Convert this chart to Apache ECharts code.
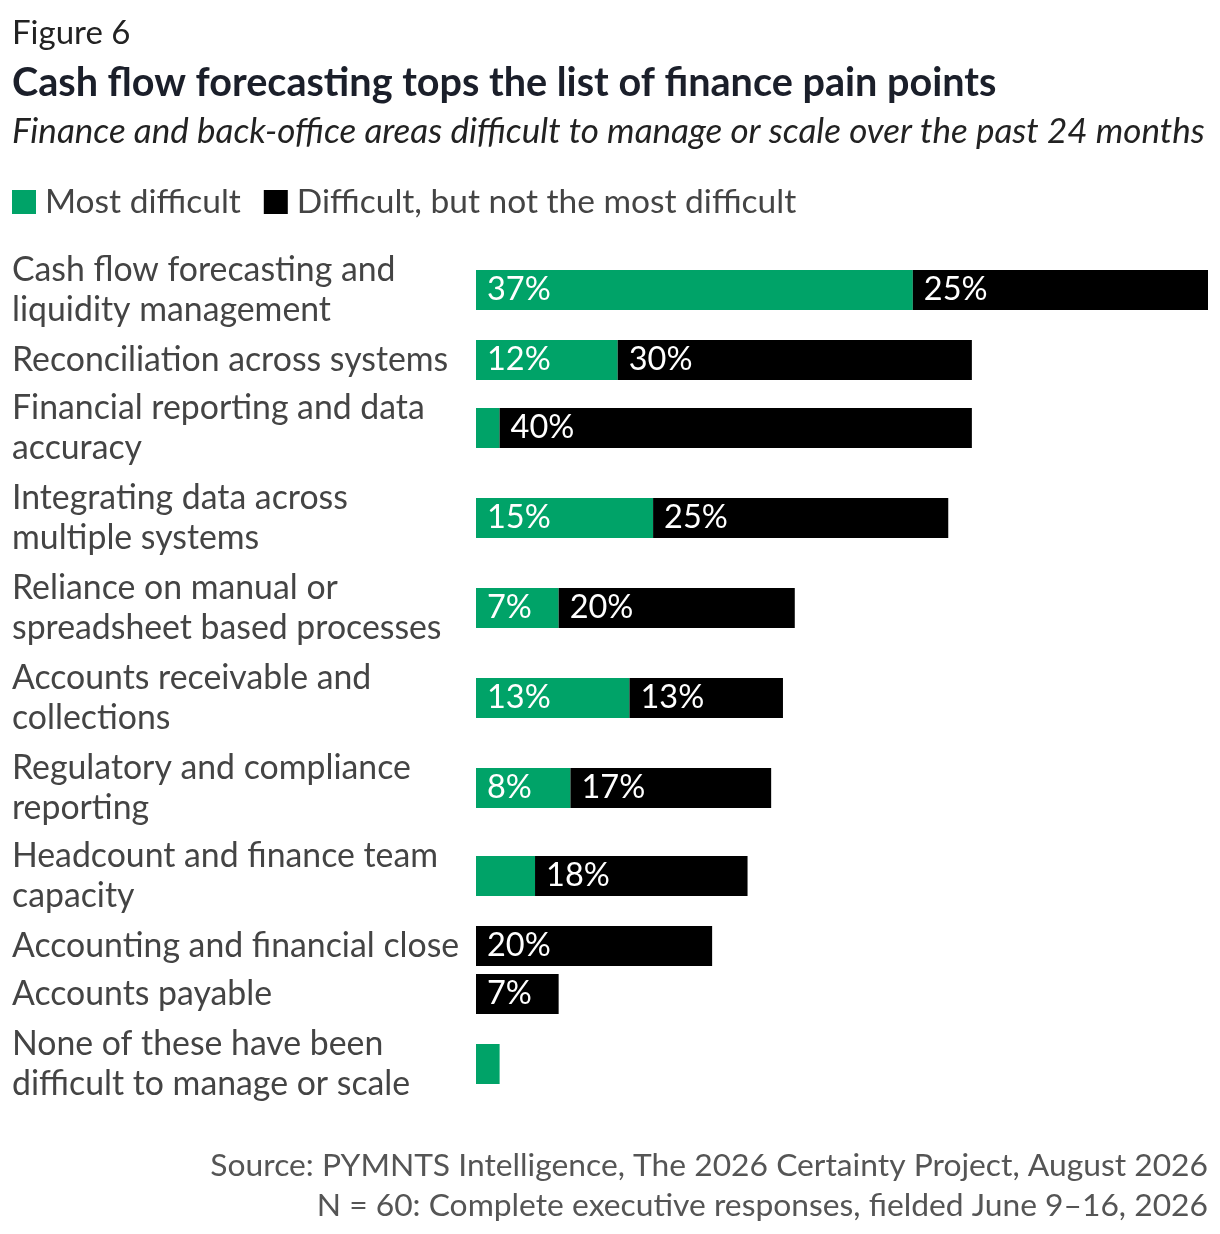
<!DOCTYPE html>
<html>
<head>
<meta charset="utf-8">
<script src="https://cdn.jsdelivr.net/npm/echarts@6/dist/echarts.min.js"></script>
<style>
  html, body { margin: 0; padding: 0; background: #fff; }
  #chart { width: 1220px; height: 1234px; }
</style>
</head>
<body>
<div id="chart"></div>
<script>
// Figure 6 data
var categories = [
    'Cash flow forecasting and\nliquidity management',
    'Reconciliation across systems',
    'Financial reporting and data\naccuracy',
    'Integrating data across\nmultiple systems',
    'Reliance on manual or\nspreadsheet based processes',
    'Accounts receivable and\ncollections',
    'Regulatory and compliance\nreporting',
    'Headcount and finance team\ncapacity',
    'Accounting and financial close',
    'Accounts payable',
    'None of these have been\ndifficult to manage or scale'
];
var mostDifficult = [37, 12, 2, 15, 7, 13, 8, 5, null, null, 2];
var difficult = [25, 30, 40, 25, 20, 13, 17, 18, 20, 7, null];
var seriesNames = ['Most difficult', 'Difficult, but not the most difficult'];

// layout: top of each row's bar (rows are not evenly spaced in the original)
var rowTop = [270, 340, 408, 498, 588, 678, 768, 856, 926, 974, 1044];

var FONT = 'Lato, "Noto Sans", sans-serif';
var GREEN = '#00A368';
var BLACK = '#000000';

var chart = echarts.init(document.getElementById('chart'));

var grids = [], xAxes = [], yAxes = [], series = [];

function barLabel() {
    return {
        show: true,
        position: 'insideLeft',
        distance: 11,
        color: '#fff',
        fontSize: 32.5,
        fontFamily: FONT,
        formatter: function (p) {
            return p.value >= 7 ? p.value + '%' : '';
        }
    };
}

categories.forEach(function (cat, i) {
    grids.push({
        left: 476,
        right: 12,
        top: rowTop[i],
        height: 40,
        outerBoundsMode: 'none'
    });
    xAxes.push({
        gridIndex: i,
        type: 'value',
        min: 0,
        max: 62,
        show: false
    });
    yAxes.push({
        gridIndex: i,
        type: 'category',
        data: [cat],
        axisLine: { show: false },
        axisTick: { show: false },
        splitLine: { show: false },
        axisLabel: {
            align: 'left',
            margin: 464,
            fontSize: 33.8,
            lineHeight: 40,
            color: '#444',
            fontFamily: FONT
        }
    });
    series.push({
        name: seriesNames[0],
        type: 'bar',
        xAxisIndex: i,
        yAxisIndex: i,
        stack: 'row' + i,
        barWidth: 40,
        itemStyle: { color: GREEN },
        label: barLabel(),
        data: [mostDifficult[i]]
    });
    series.push({
        name: seriesNames[1],
        type: 'bar',
        xAxisIndex: i,
        yAxisIndex: i,
        stack: 'row' + i,
        barWidth: 40,
        itemStyle: { color: BLACK },
        label: barLabel(),
        data: [difficult[i]]
    });
});

var option = {
    backgroundColor: '#fff',
    animation: false,
    title: [
        {
            text: 'Figure 6',
            left: 12, top: 17, padding: 0,
            textStyle: { fontSize: 33, fontWeight: 'normal', color: '#222', fontFamily: FONT }
        },
        {
            text: 'Cash flow forecasting tops the list of finance pain points',
            left: 12, top: 63, padding: 0,
            textStyle: { fontSize: 39.6, fontWeight: 'bold', color: '#1b1f2a', fontFamily: FONT }
        },
        {
            text: 'Finance and back-office areas difficult to manage or scale over the past 24 months',
            left: 12, top: 114, padding: 0,
            textStyle: { fontSize: 35, fontWeight: 'normal', fontStyle: 'italic', color: '#222', fontFamily: FONT }
        },
        {
            text: 'Source: PYMNTS Intelligence, The 2026 Certainty Project, August 2026',
            right: 12, top: 1150, padding: 0,
            textStyle: { fontSize: 31.8, fontWeight: 'normal', color: '#555', fontFamily: FONT }
        },
        {
            text: 'N = 60: Complete executive responses, fielded June 9–16, 2026',
            right: 12, top: 1190, padding: 0,
            textStyle: { fontSize: 31.8, fontWeight: 'normal', color: '#555', fontFamily: FONT }
        }
    ],
    legend: {
        left: 12,
        top: 185,
        padding: 0,
        icon: 'rect',
        itemWidth: 24,
        itemHeight: 24,
        itemGap: 23,
        selectedMode: false,
        data: seriesNames,
        textStyle: {
            fontSize: 33.5,
            color: '#444',
            fontFamily: FONT,
            padding: [0, 0, 0, 4]
        }
    },
    grid: grids,
    xAxis: xAxes,
    yAxis: yAxes,
    series: series
};

chart.setOption(option);
</script>
</body>
</html>
